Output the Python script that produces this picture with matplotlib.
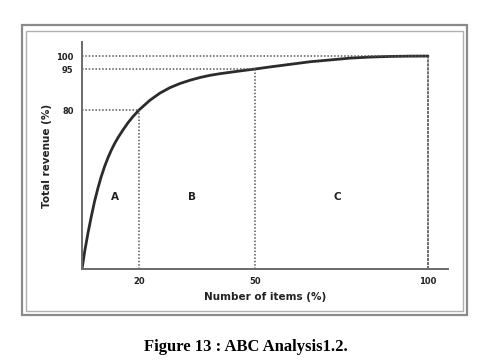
import matplotlib
matplotlib.use("Agg")
import matplotlib.pyplot as plt
from matplotlib.patches import Rectangle
import numpy as np

# cumulative curve (% items -> % revenue)
items = [0, 0.95, 2.1, 3.26, 4.42, 5.61, 6.77, 7.96, 9.12, 10.28, 11.47,
         12.63, 14.39, 16.14, 17.89, 20, 22.84, 25.43, 28.02, 30.6, 33.19,
         35.78, 38.36, 40.95, 43.53, 46.12, 50, 54.3, 60.1, 65.9, 71.7, 77.5,
         83.2, 89, 94.8, 100]
revenue = [0, 8.9, 18.1, 26.4, 34.1, 40.8, 46.6, 51.7, 56.0, 59.8, 63.2,
           66.1, 70.0, 73.6, 76.7, 80, 83.6, 86.2, 88.2, 89.7, 90.9, 91.9,
           92.7, 93.3, 93.8, 94.3, 95, 95.8, 96.8, 97.8, 98.5, 99.2, 99.6,
           99.85, 99.96, 100]

x_ticks = [20, 50, 100]
y_ticks = [80, 95, 100]
class_names = ["A", "B", "C"]
class_x = [11.6, 33.7, 73.7]
class_y = 36

# the original drawing is schematic: axis spacing is not linear
x_nodes = [0, 20, 50, 100, 120]
x_px = [0, 57, 173, 346, 415]
y_nodes = [0, 80, 95, 100, 120]
y_px = [0, 159, 200, 213, 265]

def fwd(nodes, px):
    return lambda v: np.interp(v, nodes, px)

def inv(nodes, px):
    return lambda v: np.interp(v, px, nodes)

fig = plt.figure(figsize=(4.91, 3.63), dpi=100)
W, H = 491, 363

# double frame round the chart
fig.patches.append(Rectangle((22 / W, 1 - 315 / H), 445 / W, 290 / H,
                             transform=fig.transFigure, fill=False,
                             edgecolor="#8a8a8a", lw=1.6))
fig.patches.append(Rectangle((25.5 / W, 1 - 311 / H), 437.5 / W, 280 / H,
                             transform=fig.transFigure, fill=False,
                             edgecolor="#b0b0b0", lw=1.0))

ax = fig.add_axes([82 / W, 1 - 269 / H, 366 / W, 227 / H])
ax.set_xscale("function", functions=(fwd(x_nodes, x_px), inv(x_nodes, x_px)))
ax.set_yscale("function", functions=(fwd(y_nodes, y_px), inv(y_nodes, y_px)))
ax.set_xlim(0, 105.8)
ax.set_ylim(0, 105.4)

ax.plot(items, revenue, color="#2b2b2b", lw=2.0, solid_capstyle="round",
        solid_joinstyle="round")

dot = dict(color="#555555", lw=1.1, ls=(0, (1, 1.2)))
ax.plot([0, 100], [100, 100], **dot)
ax.plot([0, 50], [95, 95], **dot)
ax.plot([0, 20], [80, 80], **dot)
ax.plot([20, 20], [0, 80], **dot)
ax.plot([50, 50], [0, 95], **dot)
ax.plot([100, 100], [0, 100], color="#444444", lw=1.1, ls=(0, (2, 0.6)))

for name, cx in zip(class_names, class_x):
    ax.text(cx, class_y, name, ha="center", va="center", fontsize=7.5,
            fontweight="bold", color="#222222")

for s in ["top", "right"]:
    ax.spines[s].set_visible(False)
for s in ["left", "bottom"]:
    ax.spines[s].set_color("#6a6a6a")
    ax.spines[s].set_linewidth(1.4)

ax.set_xticks(x_ticks)
ax.set_yticks(y_ticks)
ax.set_xticklabels([str(t) for t in x_ticks])
ax.set_yticklabels([str(t) for t in y_ticks])
ax.tick_params(length=0, labelsize=6, pad=6, labelcolor="#222222")
for lab in ax.get_xticklabels() + ax.get_yticklabels():
    lab.set_fontweight("bold")

ax.set_xlabel("Number of items (%)", fontsize=7.5, fontweight="bold",
              color="#222222", labelpad=4)
ax.set_ylabel("Total revenue (%)", fontsize=7.5, fontweight="bold",
              color="#222222", labelpad=3)
ax.patch.set_visible(False)

fig.text(0.5, 1 - 347 / H, "Figure 13 : ABC Analysis1.2.", ha="center",
         va="center", fontsize=12, fontweight="bold",
         family="Liberation Serif")

fig.savefig("out.png", dpi=100)
